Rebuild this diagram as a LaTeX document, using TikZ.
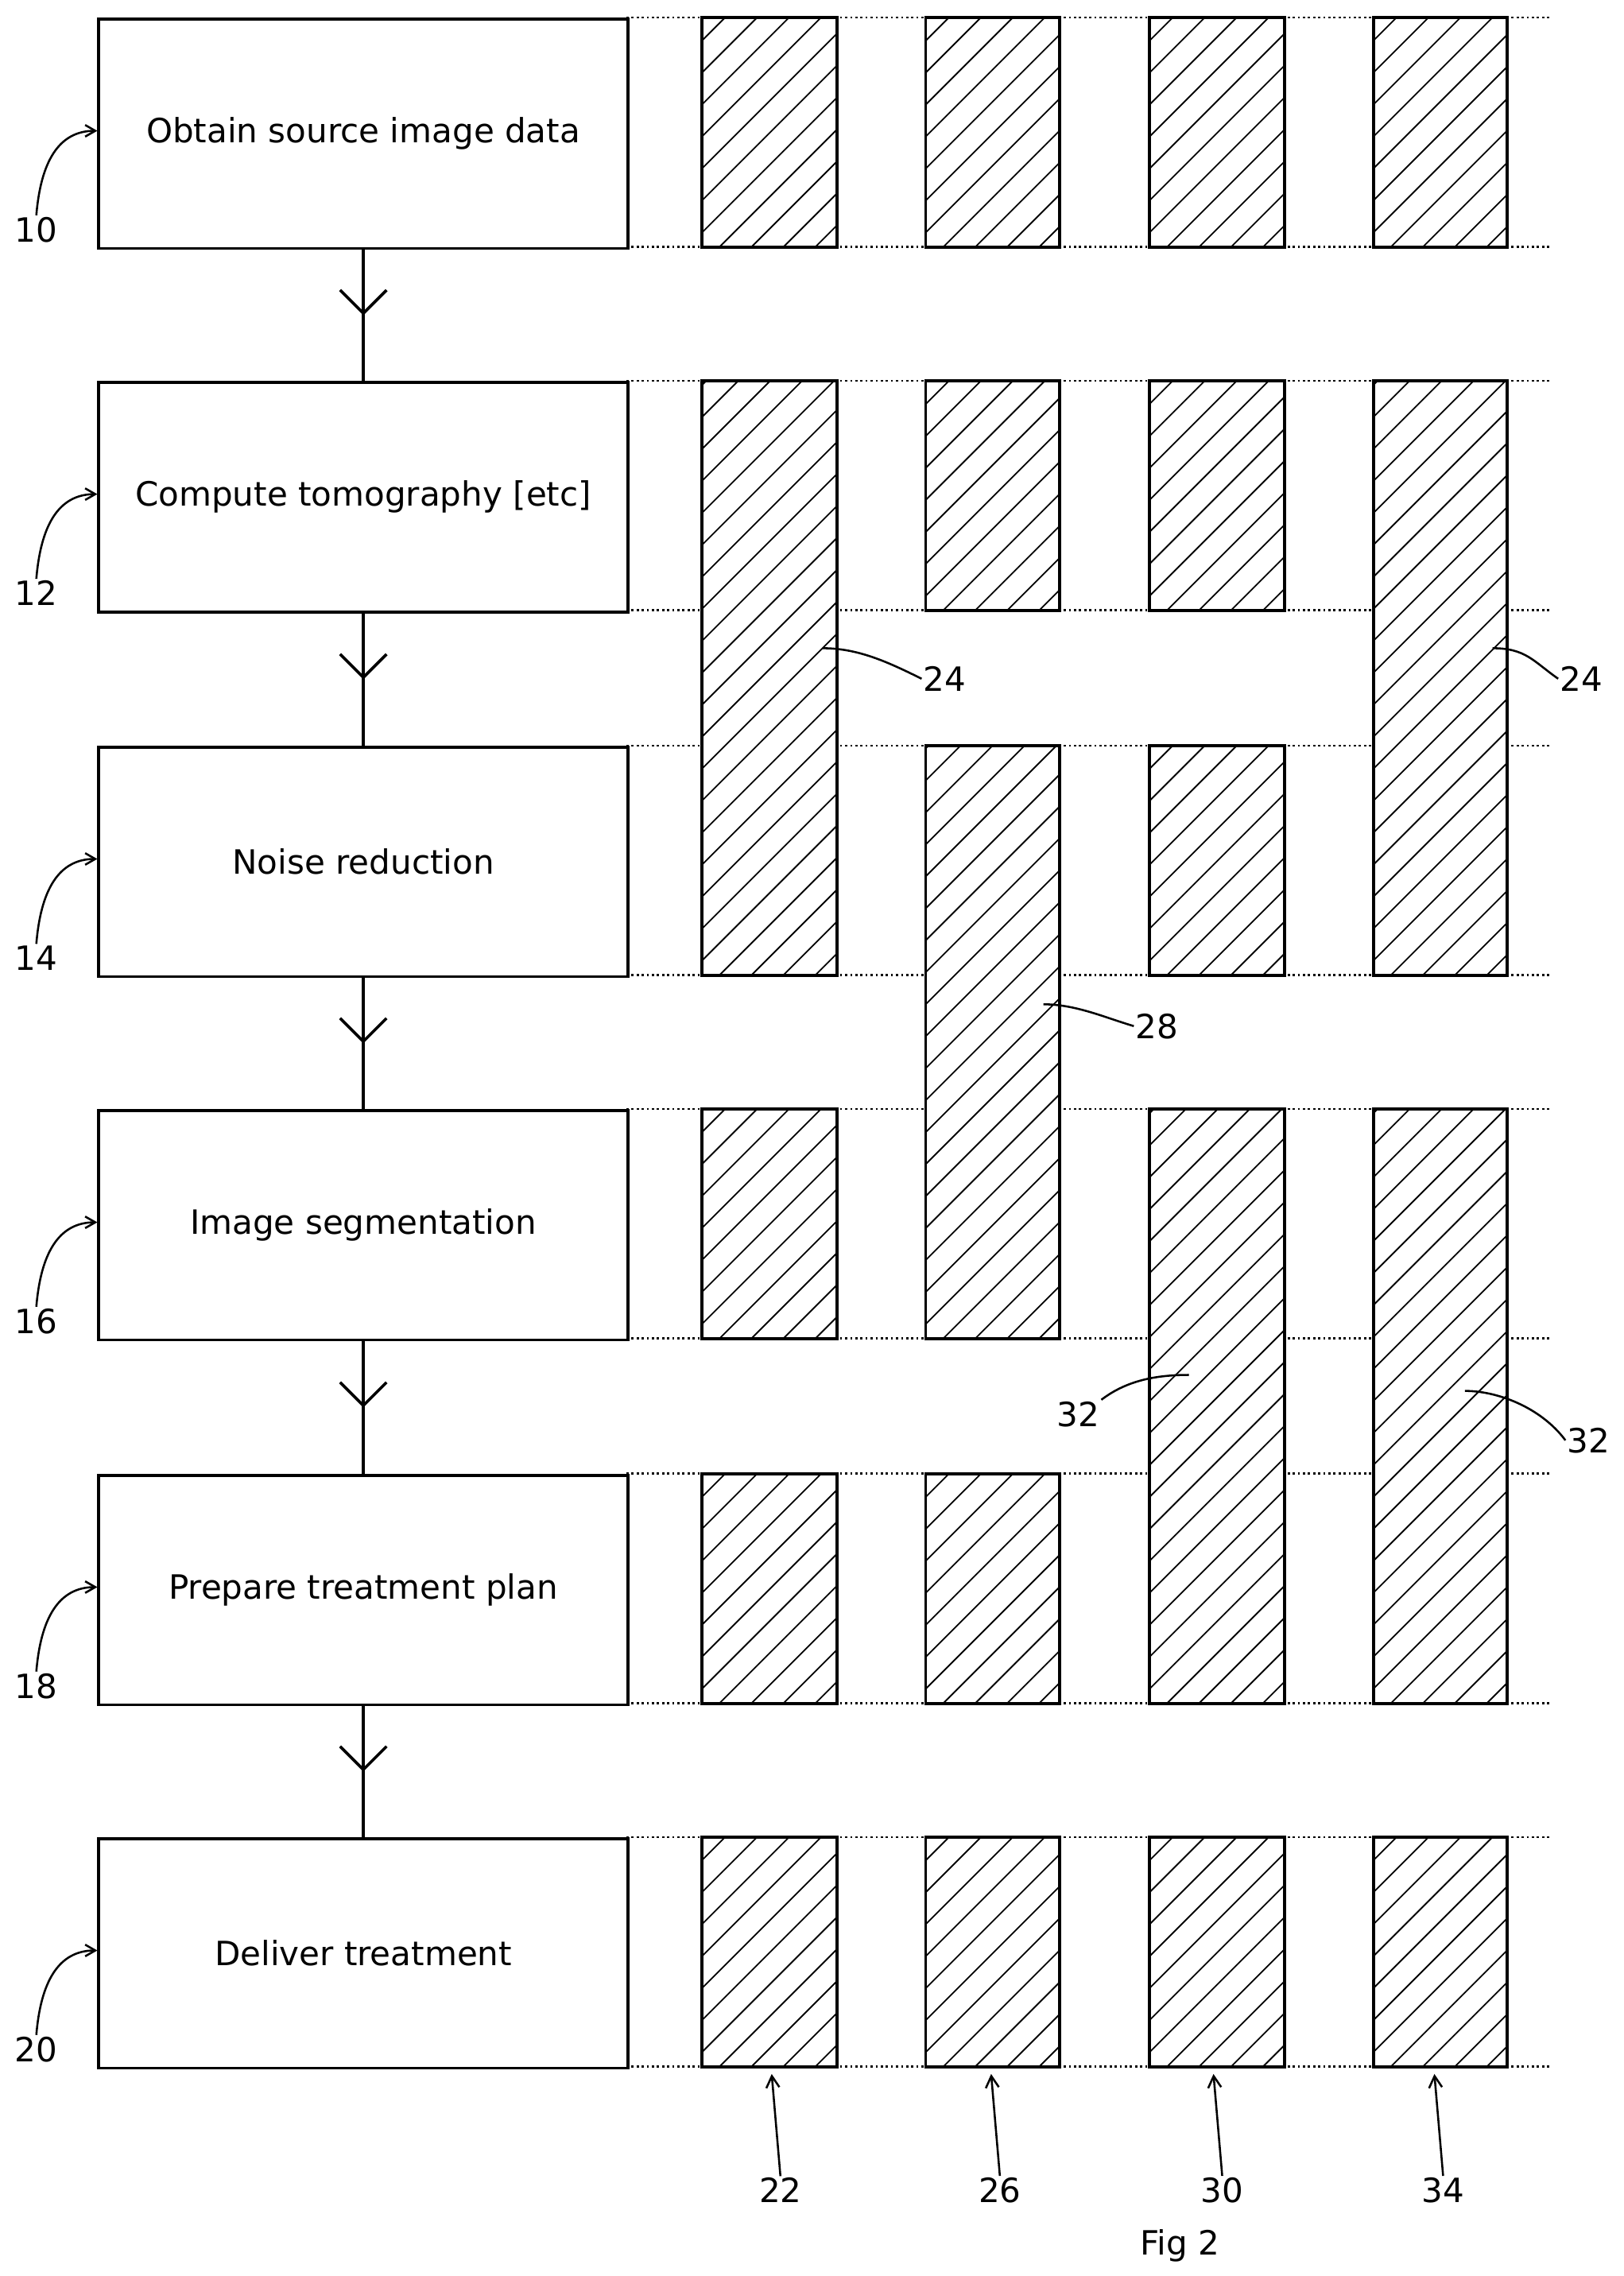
\documentclass[tikz,border=0pt]{standalone}
\usepackage{fontspec}
\setmainfont{DejaVu Sans}
\usetikzlibrary{arrows.meta,decorations.markings}
\begin{document}
\begin{tikzpicture}[x=1pt,y=-1pt,
 box/.style={draw,line width=2pt,minimum width=364pt,minimum height=158pt,anchor=north west,inner sep=0pt,font=\fontsize{23}{27}\selectfont},
 flow/.style={line width=2pt,postaction={decorate},decoration={markings,mark=at position 0.5 with {\arrow{Straight Barb[length=16pt,width=32pt,line width=2pt]}}}},
 ref/.style={line width=1.4pt},
 num/.style={font=\fontsize{23}{27}\selectfont,inner sep=1pt},
 dots/.style={line width=1.5pt,dotted}]
\useasboundingbox (0,0) rectangle (1117,1566);
\newcommand{\hbarx}[4]{%
 \fill[white] (#1,#2) rectangle (#3,#4);
 \begin{scope}\clip (#1,#2) rectangle (#3,#4);
 \foreach \i in {-1000,-978,...,200} \draw[line width=1pt] (#1+\i,#4) -- ++(700,-700);
 \end{scope}
 \draw[line width=2pt] (#1,#2) rectangle (#3,#4);}
\foreach \r/\t/\n [count=\k] in {12/Obtain source image data/10,262/Compute tomography [etc]/12,513/Noise reduction/14,763/Image segmentation/16,1014/Prepare treatment plan/18,1264/Deliver treatment/20}{
 \node[box] (b\k) at (67,\r) {\t};
 \draw[dots] (431,\r) -- (1068,\r);
 \draw[dots] (431,\r+158) -- (1068,\r+158);
 \node[num] (n\k) at (25,\r+146) {\n};
 \draw[ref,-{Straight Barb[length=7pt,width=8pt]}] (n\k.north) .. controls (28,\r+100) and (40,\r+78) .. (b\k.west|-0,\r+78);
}
\foreach \a/\b in {1/2,2/3,3/4,4/5,5/6} \draw[flow] (b\a.south) -- (b\b.north);
% column 1
\hbarx{483}{12}{576}{170}\hbarx{483}{262}{576}{671}\hbarx{483}{763}{576}{921}\hbarx{483}{1014}{576}{1172}\hbarx{483}{1264}{576}{1422}
% column 2
\hbarx{637}{12}{729}{170}\hbarx{637}{262}{729}{420}\hbarx{637}{513}{729}{921}\hbarx{637}{1014}{729}{1172}\hbarx{637}{1264}{729}{1422}
% column 3
\hbarx{791}{12}{884}{170}\hbarx{791}{262}{884}{420}\hbarx{791}{513}{884}{671}\hbarx{791}{763}{884}{1172}\hbarx{791}{1264}{884}{1422}
% column 4
\hbarx{945}{12}{1037}{170}\hbarx{945}{262}{1037}{671}\hbarx{945}{763}{1037}{1172}\hbarx{945}{1264}{1037}{1422}
% leaders
\node[num] (l1) at (650,467) {24};
\draw[ref] (566,446) .. controls (590,446) and (610,455) .. (l1.west);
\node[num] (l2) at (1088,467) {24};
\draw[ref] (1027,446) .. controls (1050,446) and (1055,455) .. (l2.west);
\node[num] (l3) at (796,706) {28};
\draw[ref] (718,691) .. controls (740,691) and (760,700) .. (l3.west);
\node[num] (l4) at (742,973) {32};
\draw[ref] (l4.north east) .. controls (775,950) and (795,946) .. (818,946);
\node[num] (l5) at (1093,991) {32};
\draw[ref] (1008,957) .. controls (1030,957) and (1060,968) .. (l5.west);
\foreach \x/\t in {537/22,688/26,841/30,993/34}{
 \node[num] (c\t) at (\x,1507) {\t};
 \coordinate (e\t) at (\x-6,1427);
 \draw[ref,-{Straight Barb[length=8pt,width=9pt]}] (c\t.north) -- (e\t);
}
\node[num] (fig) at (812,1545) {Fig 2};
\end{tikzpicture}
\end{document}
